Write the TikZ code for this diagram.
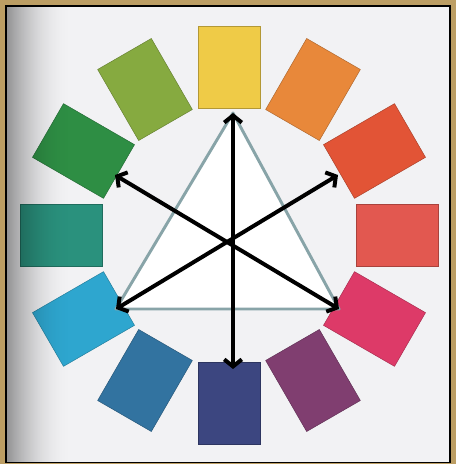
\documentclass[tikz,border=0pt]{standalone}
\usepackage{xcolor}
\definecolor{cwframe}{RGB}{188,158,100}
\definecolor{cwpaper}{RGB}{242,242,244}
\definecolor{cwtri}{RGB}{136,164,168}
\definecolor{cwyellow}{RGB}{239,203,71}
\definecolor{cworange}{RGB}{232,136,58}
\definecolor{cwredorange}{RGB}{226,84,54}
\definecolor{cwred}{RGB}{226,88,80}
\definecolor{cwmagenta}{RGB}{221,58,104}
\definecolor{cwviolet}{RGB}{128,62,112}
\definecolor{cwnavy}{RGB}{60,70,128}
\definecolor{cwblue}{RGB}{50,115,160}
\definecolor{cwcyan}{RGB}{46,166,207}
\definecolor{cwteal}{RGB}{42,145,125}
\definecolor{cwgreen}{RGB}{46,142,68}
\definecolor{cwlime}{RGB}{134,170,64}
\usepackage{tikz}
\usetikzlibrary{arrows.meta}

\tikzset{
  swatch/.style={draw=#1!75!black, fill=#1, line width=0.4pt, minimum width=1.86cm, minimum height=2.46cm, inner sep=0pt},
  tri/.style={draw=cwtri, fill=white, line width=2.5pt, line join=round},
  link/.style={line width=3.4pt, {Straight Barb[length=6pt,width=15pt]}-{Straight Barb[length=6pt,width=15pt]}}
}

\begin{document}
\begin{tikzpicture}[x=0.03cm, y=0.03cm]
  % --- Frame and paper ---
  \useasboundingbox (0,0) rectangle (456,464);
  \fill[cwframe] (0,0) rectangle (456,464);
  \fill[black] (5,1) rectangle (451,459);
  \fill[cwpaper] (7,2) rectangle (449,457);

  % --- Colour swatches, clockwise from the top ---
  \node[swatch=cwyellow, rotate=0] (yellow) at (229,397) {};
  \node[swatch=cworange, rotate=-30] (orange) at (313,374.5) {};
  \node[swatch=cwredorange, rotate=-60] (redorange) at (374.5,313) {};
  \node[swatch=cwred, rotate=-90] (red) at (397,229) {};
  \node[swatch=cwmagenta, rotate=-120] (magenta) at (374.5,145) {};
  \node[swatch=cwviolet, rotate=-150] (violet) at (313,83.5) {};
  \node[swatch=cwnavy, rotate=180] (navy) at (229,61) {};
  \node[swatch=cwblue, rotate=150] (blue) at (145,83.5) {};
  \node[swatch=cwcyan, rotate=120] (cyan) at (83.5,145) {};
  \node[swatch=cwteal, rotate=90] (teal) at (61,229) {};
  \node[swatch=cwgreen, rotate=60] (green) at (83.5,313) {};
  \node[swatch=cwlime, rotate=30] (lime) at (145,374.5) {};

  % shadow on the left edge
  \foreach \i [evaluate=\i as \o using {0.39*(1-\i/65)^2}] in {0,...,64}
    \fill[black, opacity=\o] (7+\i,2) rectangle (8+\i,457);

  % --- Triangle ---
  \coordinate (apex) at (233,351);
  \coordinate (left) at (116,155);
  \coordinate (right) at (339,155);
  \draw[tri] (apex) -- (left) -- (right) -- cycle;

  % --- Arrows ---
  \coordinate (down) at (233,95);
  \coordinate (upleft) at (115,289);
  \coordinate (upright) at (338,289);
  \draw[link] (apex) -- (down);
  \draw[link] (upleft) -- (right);
  \draw[link] (left) -- (upright);
\end{tikzpicture}
\end{document}
